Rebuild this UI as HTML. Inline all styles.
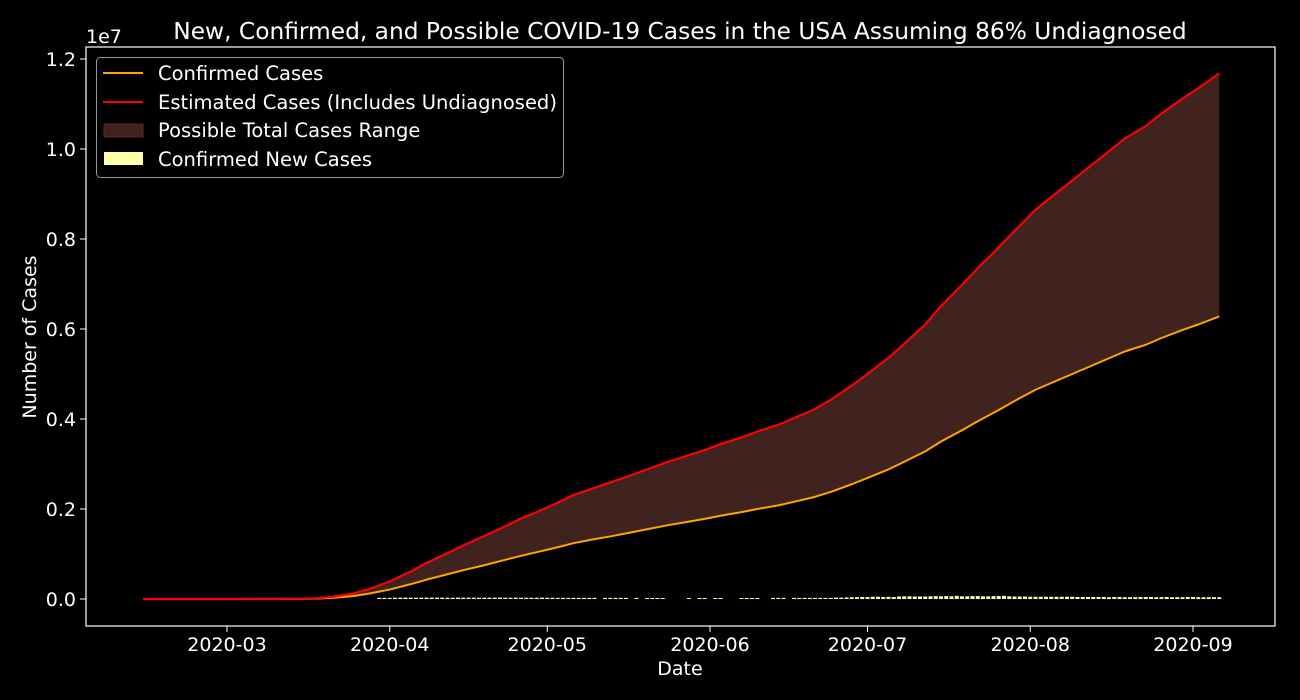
<!DOCTYPE html>
<html><head><meta charset="utf-8"><style>
html,body{margin:0;padding:0;background:#000;}
svg{display:block;font-family:"DejaVu Sans","Liberation Sans",sans-serif;}
</style></head><body>
<svg id="chart" width="1300" height="700" viewBox="0 0 1300 700">
<rect x="0" y="0" width="1300" height="700" fill="#000"/>
<text x="680" y="39" fill="#fff" font-size="23.3" text-anchor="middle">New, Confirmed, and Possible COVID-19 Cases in the USA Assuming 86% Undiagnosed</text>
<g id="plot"></g>
<rect x="86" y="47" width="1189" height="579" fill="none" stroke="#fff" stroke-width="1.2"/>
<text x="86" y="43" fill="#fff" font-size="19">1e7</text>
<text x="680" y="675" fill="#fff" font-size="19" text-anchor="middle">Date</text>
<text transform="translate(36,337) rotate(-90)" fill="#fff" font-size="19" text-anchor="middle">Number of Cases</text>
<g>
<rect x="96.5" y="57.5" width="467" height="120" rx="4" fill="#000" stroke="#999" stroke-width="1"/>
<line x1="103" y1="73" x2="143" y2="73" stroke="#ffa500" stroke-width="2"/>
<text x="158" y="80" fill="#fff" font-size="19.5">Confirmed Cases</text>
<line x1="103" y1="102" x2="143" y2="102" stroke="#ff0000" stroke-width="2"/>
<text x="158" y="109" fill="#fff" font-size="19.5">Estimated Cases (Includes Undiagnosed)</text>
<rect x="104" y="124" width="39" height="13" fill="#40221f" stroke="#5a2a26"/>
<text x="158" y="137" fill="#fff" font-size="19.5">Possible Total Cases Range</text>
<rect x="104" y="152" width="39" height="13" fill="#ffffaa"/>
<text x="158" y="166" fill="#fff" font-size="19.5">Confirmed New Cases</text>
</g>
</svg>
<script>
const dates=["2020-02-14","2020-03-01","2020-03-10","2020-03-15","2020-03-18","2020-03-21","2020-03-25","2020-03-28","2020-04-01","2020-04-05","2020-04-08","2020-04-12","2020-04-15","2020-04-19","2020-04-22","2020-04-26","2020-04-29","2020-05-03","2020-05-06","2020-05-10","2020-05-13","2020-05-17","2020-05-20","2020-05-24","2020-05-27","2020-05-31","2020-06-03","2020-06-07","2020-06-10","2020-06-14","2020-06-17","2020-06-21","2020-06-24","2020-06-28","2020-07-01","2020-07-05","2020-07-08","2020-07-12","2020-07-15","2020-07-19","2020-07-22","2020-07-26","2020-07-29","2020-08-02","2020-08-05","2020-08-09","2020-08-12","2020-08-16","2020-08-19","2020-08-23","2020-08-26","2020-08-30","2020-09-02","2020-09-06"];
const confirmed=[0,0.00007,0.001,0.003,0.008,0.025,0.065,0.12,0.21,0.33,0.43,0.55,0.64,0.75,0.84,0.96,1.04,1.15,1.24,1.33,1.39,1.48,1.55,1.64,1.70,1.78,1.85,1.93,2.0,2.08,2.16,2.27,2.38,2.55,2.69,2.88,3.05,3.28,3.5,3.75,3.95,4.2,4.4,4.65,4.8,5.0,5.15,5.35,5.5,5.65,5.8,5.98,6.1,6.28];
const estimated=[0,0.0001,0.002,0.006,0.015,0.047,0.12,0.22,0.39,0.61,0.80,1.02,1.19,1.40,1.56,1.79,1.93,2.14,2.31,2.47,2.59,2.75,2.88,3.05,3.16,3.31,3.44,3.59,3.72,3.87,4.02,4.22,4.43,4.74,5.0,5.36,5.67,6.1,6.51,6.98,7.35,7.81,8.18,8.65,8.93,9.3,9.58,9.95,10.23,10.51,10.79,11.12,11.35,11.68];
const newStart="2020-03-30";
const newCases=[25,25,25,28,30,30,30,28,30,30,32,30,30,28,28,30,30,30,30,28,28,30,30,30,28,28,30,28,28,28,28,30,28,28,25,25,25,25,25,25,25,25,0,25,25,25,25,25,0,25,0,20,20,20,20,0,0,0,0,20,0,20,20,0,20,20,0,0,0,20,20,20,20,0,0,25,25,25,0,25,25,25,25,25,25,25,25,30,30,35,40,40,45,45,50,50,45,50,45,55,60,60,55,55,55,60,65,60,65,60,70,60,60,65,65,60,60,65,65,70,60,55,55,55,50,50,50,50,50,50,50,50,50,45,45,45,45,45,45,40,45,45,40,40,40,45,45,45,40,40,45,40,40,40,45,45,40,40,40,40,40];
const yTicks=[0,0.2,0.4,0.6,0.8,1.0,1.2];
const xTickDates=["2020-03-01","2020-04-01","2020-05-01","2020-06-01","2020-07-01","2020-08-01","2020-09-01"];
const xTickLabels=["2020-03","2020-04","2020-05","2020-06","2020-07","2020-08","2020-09"];

const NS="http://www.w3.org/2000/svg";
const plot=document.getElementById('plot');
const DAY=86400000, T0=Date.parse("2020-03-01"), PX_PER_DAY=(1193-227)/184;
function xs(d){return 227+(Date.parse(d)-T0)/DAY*PX_PER_DAY;}
function xd(n){return 227+n*PX_PER_DAY;}
function ys(m){return 599-m*45;}
function mk(tag,attrs){const e=document.createElementNS(NS,tag);for(const k in attrs)e.setAttribute(k,attrs[k]);plot.appendChild(e);return e;}

let d="M"+dates.map((t,i)=>xs(t).toFixed(2)+","+ys(estimated[i]).toFixed(2)).join("L");
for(let i=dates.length-1;i>=0;i--)d+="L"+xs(dates[i]).toFixed(2)+","+ys(confirmed[i]).toFixed(2);
const area=mk('path',{d:d+"Z",fill:"#40221f",stroke:"none"});



const startOff=(Date.parse(newStart)-T0)/DAY;
newCases.forEach((v,i)=>{
  if(v<=0)return;
  const h=Math.max(1,v/1000*45);
  const b=mk('rect',{x:(xd(startOff+i)-2).toFixed(2),y:(599-h).toFixed(2),width:4,height:h.toFixed(2),fill:"#ffffaa"});
  
  
});

const lc=mk('path',{d:"M"+dates.map((t,i)=>xs(t).toFixed(2)+","+ys(confirmed[i]).toFixed(2)).join("L"),fill:"none",stroke:"#ffa500","stroke-width":2,"stroke-linejoin":"round"});


const le=mk('path',{d:"M"+dates.map((t,i)=>xs(t).toFixed(2)+","+ys(estimated[i]).toFixed(2)).join("L"),fill:"none",stroke:"#ff0000","stroke-width":2.2,"stroke-linejoin":"round"});



yTicks.forEach(v=>{
  const y=ys(v*10);
  const t=mk('line',{x1:80,x2:86,y1:y,y2:y,stroke:"#fff","stroke-width":1});
  
  
  const l=mk('text',{x:76,y:y+7,fill:"#fff","font-size":19,"text-anchor":"end"});
  l.textContent=v.toFixed(1);
  
  
});
xTickDates.forEach((dt,i)=>{
  const x=xs(dt);
  const t=mk('line',{x1:x,x2:x,y1:626,y2:632,stroke:"#fff","stroke-width":1});
  
  
  const l=mk('text',{x:x,y:651,fill:"#fff","font-size":19,"text-anchor":"middle"});
  l.textContent=xTickLabels[i];
  
  
});
</script>
</body></html>
